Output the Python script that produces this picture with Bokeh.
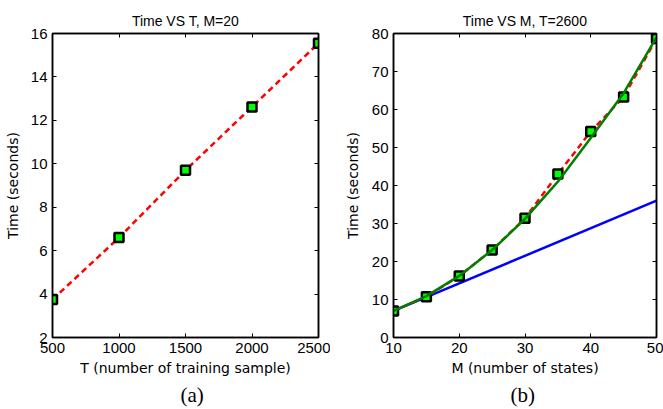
from bokeh.plotting import figure
from bokeh.models import Range1d, LinearAxis, FixedTicker, Title
from bokeh.layouts import row
from bokeh.embed import file_html
from bokeh.resources import INLINE

# ---- data (a): time vs number of training samples, M=20
T_samples = [500, 1000, 1500, 2000, 2500]
time_vs_T = [3.75, 6.6, 9.7, 12.62, 15.55]

# ---- data (b): time vs number of states, T=2600
M_states = [10, 15, 20, 25, 30, 35, 40, 45, 50]
time_vs_M = [7.0, 10.7, 16.2, 23.0, 31.4, 43.0, 54.2, 63.3, 78.7]
fit_curve = [7.0, 10.9, 16.2, 23.0, 31.2, 41.0, 52.5, 64.3, 79.0]
M_linear = [10, 50]
fit_linear = [7.0, 36.0]

x_ticks_a = [500, 1000, 1500, 2000, 2500]
y_ticks_a = [2, 4, 6, 8, 10, 12, 14, 16]
x_ticks_b = [10, 20, 30, 40, 50]
y_ticks_b = [0, 10, 20, 30, 40, 50, 60, 70, 80]

SANS = "Liberation Sans"
LABEL_FONT = "DejaVu Sans"
SERIF = "Liberation Serif"


def style_axis(ax, ticks, show_labels=True, label_standoff=7):
    ax.ticker = FixedTicker(ticks=ticks)
    ax.major_tick_in = 4
    ax.major_tick_out = 0
    ax.minor_tick_line_color = None
    ax.axis_line_color = "black"
    ax.axis_line_width = 1.5
    ax.major_tick_line_color = "black"
    ax.major_tick_line_width = 1
    if show_labels:
        ax.major_label_text_font = SANS
        ax.major_label_text_font_size = "15px"
        ax.major_label_text_color = "black"
        ax.major_label_standoff = 5
        ax.axis_label_text_font = LABEL_FONT
        ax.axis_label_text_font_size = "14px"
        ax.axis_label_text_font_style = "normal"
        ax.axis_label_text_color = "black"
        ax.axis_label_standoff = label_standoff
    else:
        ax.major_label_overrides = {t: "" for t in ticks}
        ax.major_label_standoff = 0


def make_fig(width, bl, br, xr, yr, xt, yt, title, xlabel, caption, cap_offset, ylab_standoff):
    p = figure(width=width, height=409, output_backend="svg", toolbar_location=None,
               x_range=Range1d(*xr), y_range=Range1d(*yr),
               min_border_left=bl, min_border_right=br, min_border_top=33,
               min_border_bottom=72)
    p.grid.visible = False
    p.outline_line_color = "black"
    p.outline_line_width = 1.5
    p.background_fill_color = "white"
    p.border_fill_color = "white"
    p.title.text = title
    p.title.align = "center"
    p.title.text_font = SANS
    p.title.text_font_size = "14px"
    p.title.text_font_style = "normal"
    p.title.text_color = "black"
    p.title.standoff = 9
    style_axis(p.xaxis[0], xt, label_standoff=4)
    style_axis(p.yaxis[0], yt, label_standoff=ylab_standoff)
    p.xaxis[0].axis_label = xlabel
    p.yaxis[0].axis_label = "Time (seconds)"
    top = LinearAxis()
    style_axis(top, xt, show_labels=False)
    p.add_layout(top, "above")
    right = LinearAxis()
    style_axis(right, yt, show_labels=False)
    p.add_layout(right, "right")
    cap = Title(text=caption, align="left", text_font=SERIF, text_font_size="21px",
                text_font_style="normal", text_color="black", offset=cap_offset, standoff=5)
    p.add_layout(cap, "below")
    return p


pa = make_fig(330, 52, 12, (500, 2500), (2, 16), x_ticks_a, y_ticks_a,
              "Time VS T, M=20", "T (number of training sample)", "(a)", 128, 7)
pa.line(T_samples, time_vs_T, line_color="red", line_width=2.5, line_dash="6 4")
pa.scatter(T_samples, time_vs_T, marker="square", size=9, line_color="black",
           line_width=2.5, fill_color="#00ff00")

pb = make_fig(333, 63, 7, (10, 50), (0, 80), x_ticks_b, y_ticks_b,
              "Time VS M, T=2600", "M (number of states)", "(b)", 117, 8)
pb.line(M_linear, fit_linear, line_color="#0000ff", line_width=2.5)
pb.line(M_states, time_vs_M, line_color="red", line_width=2.5, line_dash="6 4")
pb.scatter(M_states, time_vs_M, marker="square", size=9, line_color="black",
           line_width=2.5, fill_color="#00ff00")
pb.line(M_states, fit_curve, line_color="#008000", line_width=2.5)

layout = row(pa, pb)
open("out.html", "w").write(file_html(layout, INLINE))
